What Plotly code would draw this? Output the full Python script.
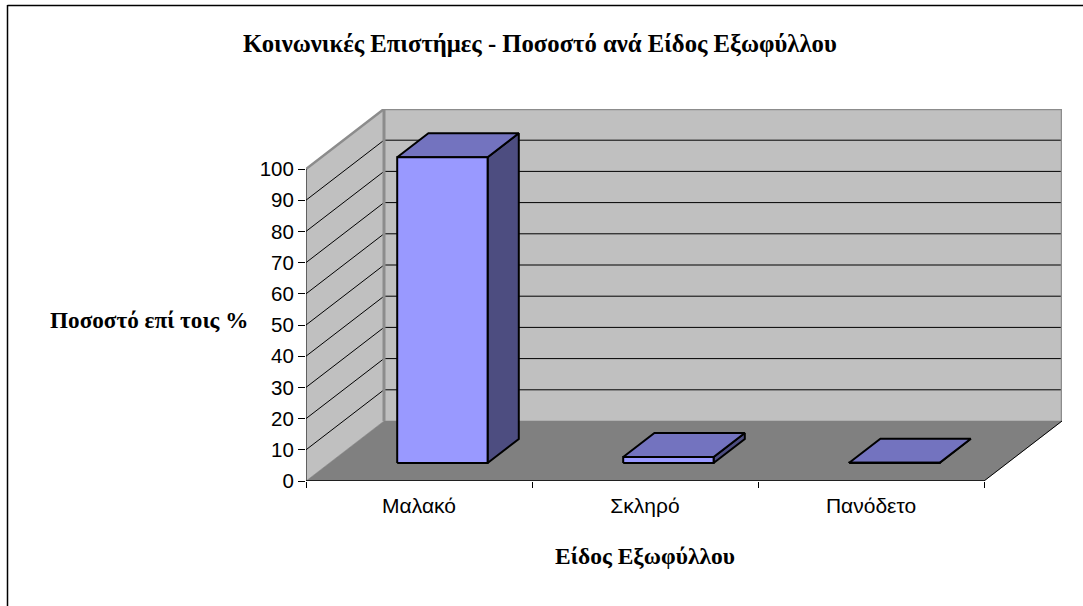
import plotly.graph_objects as go

# --- data ---
categories = ["Μαλακό", "Σκληρό", "Πανόδετο"]
values = [98.0, 1.9, 0.1]
y_ticks = [0, 10, 20, 30, 40, 50, 60, 70, 80, 90, 100]
title_text = "Κοινωνικές Επιστήμες - Ποσοστό ανά Είδος Εξωφύλλου"
x_title = "Είδος Εξωφύλλου"
y_title = "Ποσοστό επί τοις %"

# --- layout geometry (pixels of the page) ---
W, H = 1083, 606
PX_LEFT, PX_RIGHT_FRONT, PX_RIGHT = 306, 984, 1062
PX_BOTTOM, PX_100, PX_TOP = 481, 169, 109
n = len(categories)
x_unit = (PX_RIGHT_FRONT - PX_LEFT) / n
y_unit = (PX_BOTTOM - PX_100) / 100
DX = (PX_RIGHT - PX_RIGHT_FRONT) / x_unit   # oblique offset of full depth
DY = (PX_100 - PX_TOP) / y_unit
GAP = 0.3                                    # side gap in a category slot
Z0, Z1 = 0.3, 0.7                            # bar depth range

WALL, WALL_EDGE, FLOOR = "#C0C0C0", "#8C8C8C", "#808080"
FRONT, TOP, SIDE = "#9999FF", "#7373BF", "#4D4D80"


def pr(x, y, z):
    return x + z * DX, y + z * DY


def poly(points, fill=None, line="black", width=1.0):
    xs, ys = zip(*[pr(*p) for p in points])
    return go.Scatter(
        x=list(xs), y=list(ys), mode="lines",
        fill="toself" if fill else "none", fillcolor=fill,
        line=dict(color=line, width=width), hoverinfo="skip", showlegend=False,
    )


fig = go.Figure()
xmax = float(n)
ymax = float(y_ticks[-1])

# walls and floor
fig.add_trace(poly([(0, 0, 0), (0, ymax, 0), (0, ymax, 1), (0, 0, 1), (0, 0, 0)], WALL, WALL, 0.5))
fig.add_trace(poly([(0, 0, 1), (0, ymax, 1), (xmax, ymax, 1), (xmax, 0, 1), (0, 0, 1)], WALL, WALL, 0.5))
fig.add_trace(poly([(0, 0, 0), (0, 0, 1), (xmax, 0, 1), (xmax, 0, 0), (0, 0, 0)], FLOOR, FLOOR, 0.5))

# grid lines
for v in y_ticks[1:-1]:
    fig.add_trace(poly([(0, v, 0), (0, v, 1), (xmax, v, 1)], None, "black", 1))

# wall edges
fig.add_trace(poly([(0, ymax, 0), (0, ymax, 1), (xmax, ymax, 1), (xmax, 0, 1)], None, WALL_EDGE, 2.5))
fig.add_trace(poly([(0, ymax, 1), (0, 0, 1)], None, WALL_EDGE, 3))
fig.add_trace(poly([(xmax, 0, 0), (xmax, 0, 1)], None, "black", 1))

# bars
for i, v in enumerate(values):
    x0, x1 = i + GAP, i + 1 - GAP
    fig.add_trace(poly([(x1, 0, Z0), (x1, 0, Z1), (x1, v, Z1), (x1, v, Z0), (x1, 0, Z0)], SIDE, "black", 2))
    fig.add_trace(poly([(x0, v, Z0), (x0, v, Z1), (x1, v, Z1), (x1, v, Z0), (x0, v, Z0)], TOP, "black", 2))
    fig.add_trace(poly([(x0, 0, Z0), (x0, v, Z0), (x1, v, Z0), (x1, 0, Z0), (x0, 0, Z0)], FRONT, "black", 2))

# axis lines
fig.add_trace(poly([(0, 0, 0), (xmax, 0, 0)], None, "black", 1.5))
fig.add_trace(poly([(0, 0, 0), (0, ymax, 0)], None, "black", 1))

SERIF = "Liberation Serif, Times New Roman, serif"
SANS = "Liberation Sans, Arial, sans-serif"

fig.update_layout(
    width=W, height=H, margin=dict(l=0, r=0, t=0, b=0, autoexpand=False),
    paper_bgcolor="white", plot_bgcolor="white", showlegend=False,
    xaxis=dict(
        domain=[PX_LEFT / W, PX_RIGHT / W], range=[0, xmax + DX],
        tickmode="array", tickvals=[i + 0.5 for i in range(n)], ticktext=categories,
        ticks="outside", ticklen=6, tickcolor="rgba(0,0,0,0)",
        tickfont=dict(family=SANS, size=21, color="black"),
        showgrid=False, zeroline=False, showline=False,
        minor=dict(tickmode="array", tickvals=list(range(n + 1)), ticks="outside",
                   ticklen=6, tickcolor="black", tickwidth=1, showgrid=False),
    ),
    yaxis=dict(
        domain=[1 - PX_BOTTOM / H, 1 - PX_TOP / H], range=[0, ymax + DY],
        tickmode="array", tickvals=y_ticks, ticks="outside", ticklen=7,
        tickcolor="black", tickwidth=1,
        tickfont=dict(family=SANS, size=20.5, color="black"),
        showgrid=False, zeroline=False, showline=False,
    ),
    annotations=[
        dict(text=f"<b>{title_text}</b>", x=539.5 / W, y=1 - 44 / H, xref="paper", yref="paper",
             showarrow=False, xanchor="center", yanchor="middle",
             font=dict(family=SERIF, size=24.7, color="black")),
        dict(text=f"<b>{y_title}</b>", x=148.5 / W, y=1 - 320 / H, xref="paper", yref="paper",
             showarrow=False, xanchor="center", yanchor="middle",
             font=dict(family=SERIF, size=23.2, color="black")),
        dict(text=f"<b>{x_title}</b>", x=645 / W, y=1 - 556 / H, xref="paper", yref="paper",
             showarrow=False, xanchor="center", yanchor="middle",
             font=dict(family=SERIF, size=23.5, color="black")),
    ],
    shapes=[
        dict(type="line", xref="paper", yref="paper", x0=7.5 / W, x1=1, y0=1 - 5.5 / H, y1=1 - 5.5 / H,
             line=dict(color="black", width=1.5)),
        dict(type="line", xref="paper", yref="paper", x0=7.5 / W, x1=7.5 / W, y0=1 - 5 / H, y1=0,
             line=dict(color="black", width=1.5)),
    ],
)

fig.write_html("out.html", config=dict(displayModeBar=False),
               post_script="document.body.style.margin='0';")
